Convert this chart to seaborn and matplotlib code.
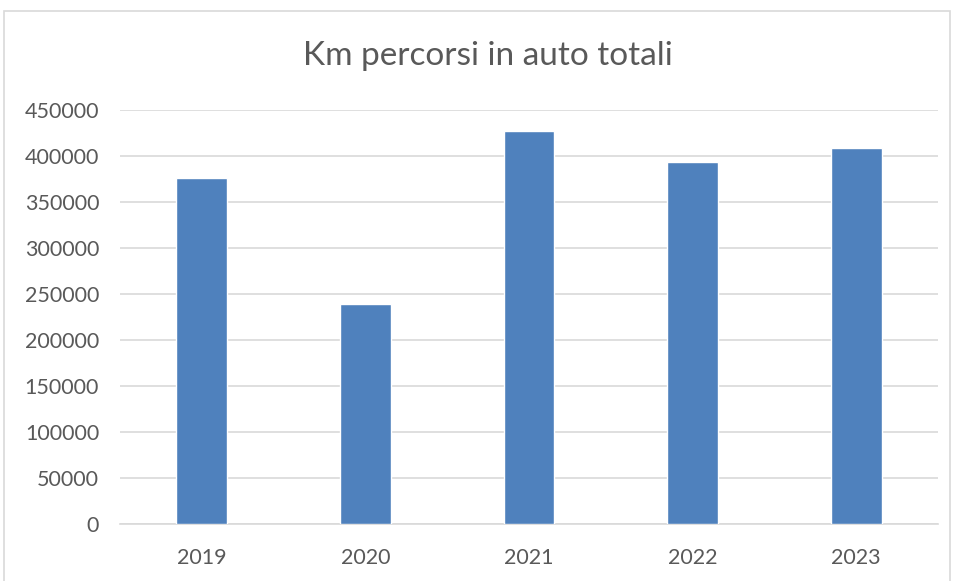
import matplotlib
matplotlib.use("Agg")
import matplotlib.pyplot as plt
import seaborn as sns
import pandas as pd
from matplotlib.patches import Rectangle

years = ["2019", "2020", "2021", "2022", "2023"]
km = [376000, 239000, 427000, 394000, 409000]
yticks = [0, 50000, 100000, 150000, 200000, 250000, 300000, 350000, 400000, 450000]
title = "Km percorsi in auto totali"

sns.set_theme(style="white")
plt.rcParams["font.family"] = ["Lato", "DejaVu Sans"]

df = pd.DataFrame({"year": years, "km": km})

fig = plt.figure(figsize=(9.56, 5.81), dpi=100)
ax = fig.add_axes([120/956, 1 - 524/581, 818/956, 414/581])

sns.barplot(data=df, x="year", y="km", color="#4F81BD", width=0.31,
            saturation=1, ax=ax, zorder=3)

ax.set_ylim(0, 450000)
ax.set_yticks(yticks)
ax.set_yticklabels([str(v) for v in yticks])
ax.set_xlim(-0.5, 4.5)
ax.grid(axis="y", color="#D9D9D9", linewidth=1.2, zorder=0)
ax.set_axisbelow(True)
for s in ["top", "right", "left"]:
    ax.spines[s].set_visible(False)
ax.spines["bottom"].set_color("#D9D9D9")
ax.spines["bottom"].set_linewidth(1.2)
ax.tick_params(axis="both", length=0, labelsize=15.5, colors="#595959")
ax.tick_params(axis="y", pad=15)
ax.tick_params(axis="x", pad=17)
ax.set_xlabel("")
ax.set_ylabel("")

fig.text(488/956, 1 - 56/581, title, ha="center", va="center",
         fontsize=24, color="#595959")

fig.patches.append(Rectangle((4/956, -0.1), 946/956, 1 - 11/581 + 0.1,
                             transform=fig.transFigure, fill=False,
                             edgecolor="#D9D9D9", linewidth=1.2))

fig.savefig("out.png", dpi=100)
